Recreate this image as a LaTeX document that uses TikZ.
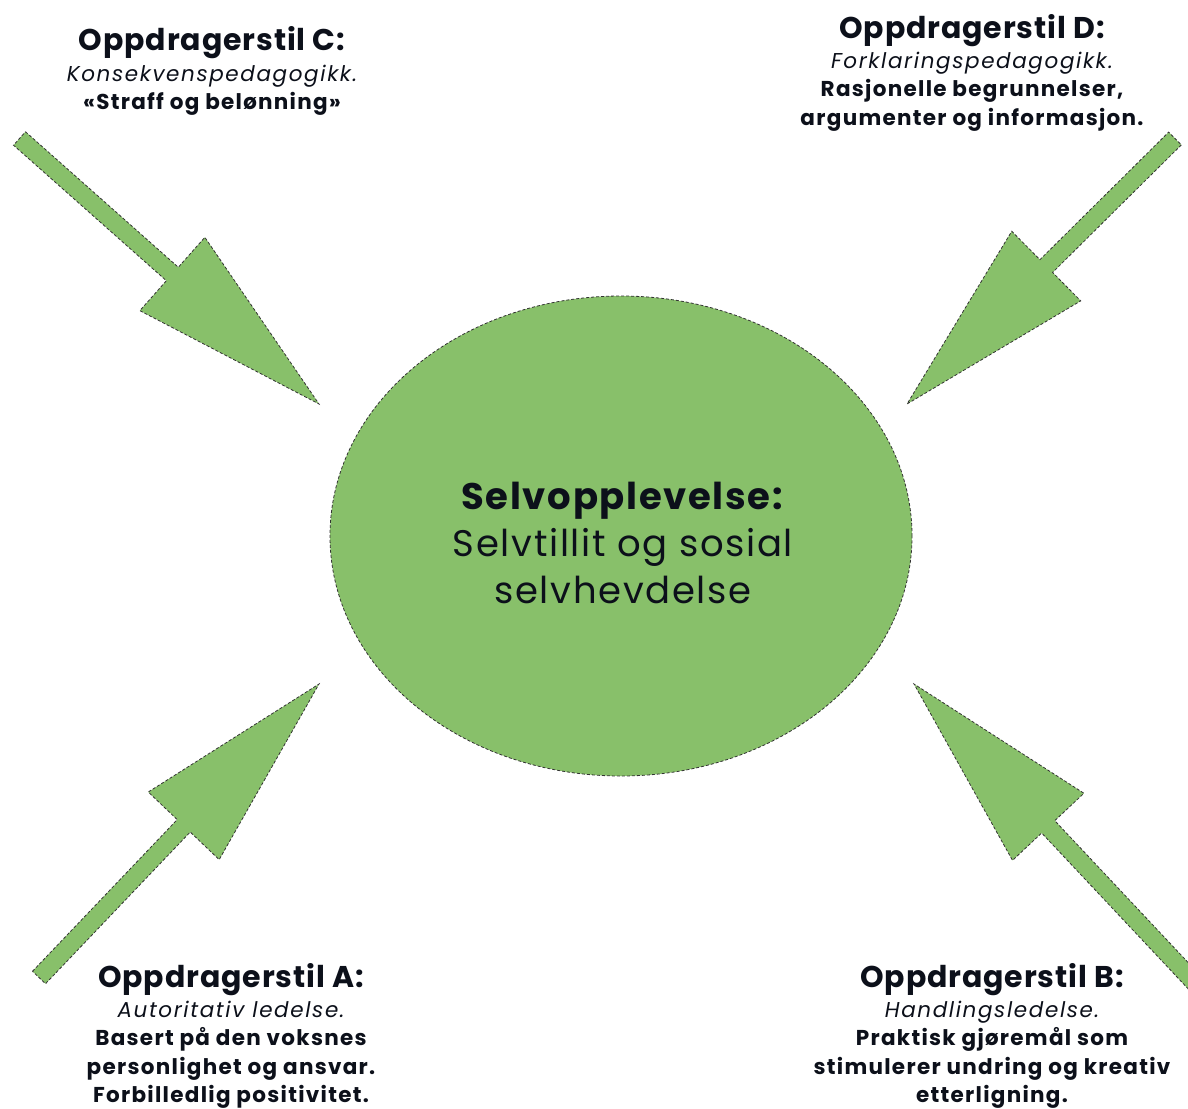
\documentclass[tikz,border=0pt]{standalone}
\usepackage{fontspec}
\setmainfont{Poppins}
\newfontfamily\headfont{Poppins}[LetterSpace=3]
\newfontfamily\bodyfont{Poppins}[LetterSpace=6]
\newfontfamily\slantfont{Poppins}[LetterSpace=7.5]
\newfontfamily\selffont{Poppins}[LetterSpace=4.5]
\usetikzlibrary{positioning,calc,shapes.geometric}

\definecolor{leafgreen}{RGB}{136,192,106}
\definecolor{inkblue}{RGB}{12,16,26}

\tikzset{
    shapeline/.style={fill=leafgreen, draw=black!80, line width=0.8pt, dash pattern=on 3pt off 2pt},
    headtxt/.style={font=\headfont\fontsize{30}{32}\selectfont\bfseries, text=inkblue, inner sep=0pt, anchor=base},
    bodytxt/.style={font=\bodyfont\fontsize{21.5}{28.5}\selectfont\bfseries, text=inkblue, align=center, inner sep=0pt},
}
\newcommand{\slant}[1]{{\slantfont\mdseries\itshape #1}}

% block arrow from tail to tip
\newcommand{\blockarrow}[2]{%
    \coordinate (#2-neck) at ($(#2)!196pt!(#1)$);
    \draw[shapeline] ($(#1)!9pt!90:(#2)$) -- ($(#2-neck)!9pt!-90:(#1)$)
        -- ($(#2-neck)!49pt!-90:(#1)$) -- (#2) -- ($(#2-neck)!49pt!90:(#1)$)
        -- ($(#2-neck)!9pt!90:(#1)$) -- ($(#1)!9pt!-90:(#2)$) -- cycle;}

\begin{document}
\begin{tikzpicture}[x=1pt, y=-1pt]
    \useasboundingbox (0,0) rectangle (1188,1108);

    % centre
    \node[shapeline, ellipse, minimum width=582pt, minimum height=480pt, inner sep=0pt] (self) at (621,536) {};
    \node[font=\selffont\fontsize{37}{47}\selectfont, text=inkblue, align=center] (selfTxt) at (623,543)
        {\textbf{Selvopplevelse:}\\Selvtillit og sosial\\selvhevdelse};

    % arrows
    \coordinate (tailC) at (19.5,138.5);
    \coordinate (tipC) at (319,404);
    \coordinate (tailD) at (1175,138.5);
    \coordinate (tipD) at (907,404);
    \coordinate (tailA) at (39,977.5);
    \coordinate (tipA) at (319,684);
    \coordinate (tailB) at (1195,983);
    \coordinate (tipB) at (914,684);
    \blockarrow{tailC}{tipC}
    \blockarrow{tailD}{tipD}
    \blockarrow{tailA}{tipA}
    \blockarrow{tailB}{tipB}

    % styles
    \node[headtxt] (styleC) at (212,51) {Oppdragerstil C:};
    \node[bodytxt, below=5pt of styleC] (bodyC)
        {\slant{Konsekvenspedagogikk.}\\«Straff og belønning»};

    \node[headtxt] (styleD) at (972,38) {Oppdragerstil D:};
    \node[bodytxt, below=5pt of styleD] (bodyD)
        {\slant{Forklaringspedagogikk.}\\Rasjonelle begrunnelser,\\argumenter og informasjon.};

    \node[headtxt] (styleA) at (231,987) {Oppdragerstil A:};
    \node[bodytxt, below=5pt of styleA] (bodyA)
        {\slant{Autoritativ ledelse.}\\Basert på den voksnes\\personlighet og ansvar.\\Forbilledlig positivitet.};

    \node[headtxt] (styleB) at (992,987) {Oppdragerstil B:};
    \node[bodytxt, below=5pt of styleB] (bodyB)
        {\slant{Handlingsledelse.}\\Praktisk gjøremål som\\stimulerer undring og kreativ\\etterligning.};
\end{tikzpicture}
\end{document}
